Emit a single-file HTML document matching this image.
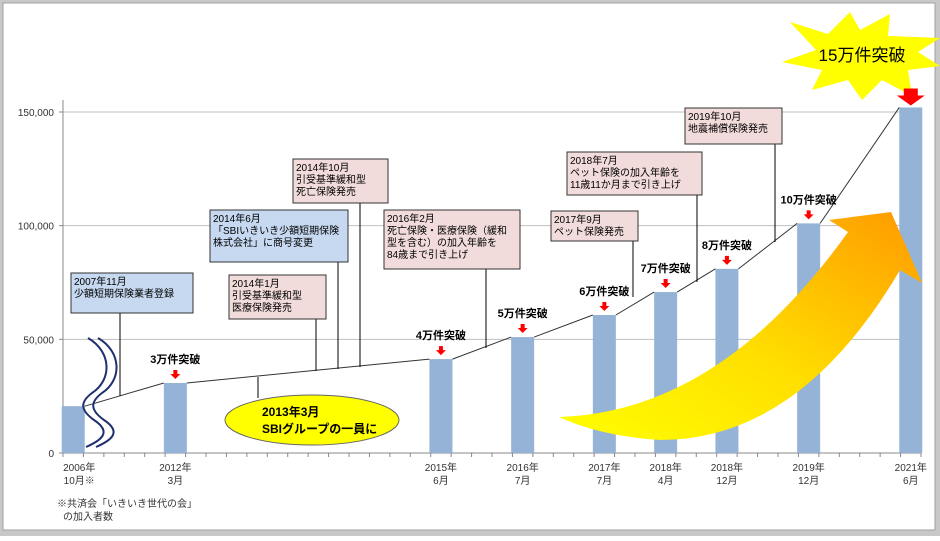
<!DOCTYPE html>
<html><head><meta charset="utf-8">
<style>
html,body{margin:0;padding:0;background:#fff;}
body{width:940px;height:536px;overflow:hidden;font-family:"Liberation Sans","Noto Sans CJK JP",sans-serif;}
svg text{font-family:"Liberation Sans","Noto Sans CJK JP",sans-serif;}
</style></head>
<body>
<svg id="chart" width="940" height="536" viewBox="0 0 940 536" xmlns="http://www.w3.org/2000/svg">
<defs>
<linearGradient id="arrowGrad" x1="0" y1="1" x2="1" y2="0">
<stop offset="0" stop-color="#ffff00"/><stop offset="0.45" stop-color="#ffe000"/><stop offset="1" stop-color="#ff9900"/>
</linearGradient>
</defs>
<rect x="0" y="0" width="940" height="536" fill="#c8c8c8"/>
<rect x="3" y="3" width="932" height="527" fill="#fff" stroke="#a0a0a0" stroke-width="1"/>
<g id="grid"></g>
<g id="axes"></g>
<g id="bars"></g>
<g id="trend"></g>
<g fill="none" stroke="#1f2f6f" stroke-width="2">
<path d="M88,338 C112,352 112,380 92,393 C80,402 80,410 94,420 C112,432 102,440 86,447"/>
<path d="M98,338 C122,352 122,380 102,393 C90,402 90,410 104,420 C122,432 112,440 96,447"/>
</g>
<path d="M559,417 Q720,412 848,232 L829,220 L891,212 L922,283 L900,270 Q800,440 660,440 Q600,436 559,417 Z" fill="url(#arrowGrad)"/>
<g id="annotations" font-size="10" fill="#000"></g>
<g>
<line x1="258" y1="377" x2="258" y2="398" stroke="#000" stroke-width="1"/>
<ellipse cx="312" cy="420" rx="87" ry="25" fill="#ffff00" stroke="#666" stroke-width="1"/>
<text x="262" y="416" font-size="12" font-weight="bold">2013年3月</text>
<text x="262" y="433" font-size="12" font-weight="bold">SBIグループの一員に</text>
</g>
<g>
<polygon points="790,22 828,34 850,12 860,30 890,14 888,36 940,38 918,52 940,66 908,70 912,96 882,80 862,100 848,80 812,90 822,70 782,62 816,50" fill="#ffff00"/>
<text x="862" y="61" font-size="17" text-anchor="middle" fill="#000">15万件突破</text>
</g>
<g id="milestones"></g>
<g id="xlabels" font-size="10" fill="#333" text-anchor="middle"></g>
<text x="57" y="507" font-size="10" fill="#333">※共済会「いきいき世代の会」</text>
<text x="63" y="520" font-size="10" fill="#333">の加入者数</text>
</svg>
<script>
const categories = ["2006年|10月※","2012年|3月","2015年|6月","2016年|7月","2017年|7月","2018年|4月","2018年|12月","2019年|12月","2021年|6月"];
const slots = [0,5,18,22,26,29,32,36,41];
const values = [20600,30800,41300,51000,60700,70800,81000,101000,152000];
const milestones = ["","3万件突破","4万件突破","5万件突破","6万件突破","7万件突破","8万件突破","10万件突破",""];
const yTicks = [0,50000,100000,150000];
const yTickLabels = ["0","50,000","100,000","150,000"];

const NS="http://www.w3.org/2000/svg";
const X0=63, X1=921, Y0=453, YT=112, YMAX=150000, NSLOT=42;
const slotW=(X1-X0)/NSLOT;
const xScale = s => X0 + (s+0.5)*slotW;
const yScale = v => Y0 - v/YMAX*(Y0-YT);
function mk(tag, attrs, parent){const e=document.createElementNS(NS,tag);for(const k in attrs)e.setAttribute(k,attrs[k]);parent.appendChild(e);return e;}

const grid=document.getElementById('grid');
const axes=document.getElementById('axes');
yTicks.forEach((t,i)=>{
  const y=yScale(t);
  if(t>0){const l=mk('line',{x1:X0,x2:X1,y1:y,y2:y,stroke:'#bfbfbf','stroke-width':1},grid);
  
  }
  const tx=mk('text',{x:54,y:y+4,'font-size':10,'text-anchor':'end',fill:'#333'},axes);
  tx.textContent=yTickLabels[i];
  
  
  mk('line',{x1:X0-4,x2:X0,y1:y,y2:y,stroke:'#888'},axes);
});
mk('line',{x1:X0,x2:X0,y1:100,y2:Y0,stroke:'#888'},axes);
mk('line',{x1:X0,x2:X1,y1:Y0,y2:Y0,stroke:'#888'},axes);
for(let i=0;i<=NSLOT;i++){const x=X0+i*slotW;mk('line',{x1:x,x2:x,y1:Y0,y2:Y0+4,stroke:'#888'},axes);}

const bars=document.getElementById('bars');
const BW=23;
const pts=[];
values.forEach((v,i)=>{
  const cx=xScale(slots[i]), y=yScale(v);
  const r=mk('rect',{x:cx-BW/2,y:y,width:BW,height:Y0-y,fill:'#95b3d7'},bars);
  
  
  pts.push([cx-BW/2,y],[cx+BW/2,y]);
});
const trend=document.getElementById('trend');
const segs=[];
for(let i=1;i<pts.length-1;i+=2){segs.push(pts[i][0]+','+pts[i][1]+' '+pts[i+1][0]+','+pts[i+1][1]);}
segs.forEach(s=>{const l=mk('polyline',{points:s,fill:'none',stroke:'#333','stroke-width':1},trend);
  
  });

const ms=document.getElementById('milestones');
values.forEach((v,i)=>{
  const cx=xScale(slots[i]), y=yScale(v);
  if(i===0) return;
  let ay=y-13, big=(i===values.length-1);
  if(big){
    const a=mk('polygon',{points:`${cx-7},${y-19} ${cx+7},${y-19} ${cx+7},${y-12} ${cx+14},${y-12} ${cx},${y-2} ${cx-14},${y-12} ${cx-7},${y-12}`,fill:'#ff0000'},ms);
    
    
    return;
  }
  const a=mk('polygon',{points:`${cx-2},${ay} ${cx+2},${ay} ${cx+2},${ay+4} ${cx+5},${ay+4} ${cx},${ay+9} ${cx-5},${ay+4} ${cx-2},${ay+4}`,fill:'#ff0000'},ms);
  
  
  const t=mk('text',{x:cx,y:y-20,'font-size':11,'font-weight':'bold','text-anchor':'middle',fill:'#000'},ms);
  t.textContent=milestones[i];
  
  
});

const xl=document.getElementById('xlabels');
categories.forEach((c,i)=>{
  const cx=xScale(slots[i])+(i===0?6:0);
  const parts=c.split('|');
  const t=mk('text',{x:cx,y:471},xl);t.textContent=parts[0];
  
  
  const t2=mk('text',{x:cx,y:484},xl);t2.textContent=parts[1];
  
  
});

const notes=[
 {x:71,y:273,w:122,h:40,fill:'#c6d9f1',lx:120,ly2:396,lines:["2007年11月","少額短期保険業者登録"],name:'note-2007-11'},
 {x:229,y:275,w:97,h:44,fill:'#f2dcdb',lx:316,ly2:371,lines:["2014年1月","引受基準緩和型","医療保険発売"],name:'note-2014-01'},
 {x:210,y:210,w:138,h:52,fill:'#c6d9f1',lx:338,ly2:369,lines:["2014年6月","「SBIいきいき少額短期保険","株式会社」に商号変更"],name:'note-2014-06'},
 {x:293,y:159,w:95,h:44,fill:'#f2dcdb',lx:360,ly2:367,lines:["2014年10月","引受基準緩和型","死亡保険発売"],name:'note-2014-10'},
 {x:384,y:210,w:136,h:59,fill:'#f2dcdb',lx:486,ly2:348,lines:["2016年2月","死亡保険・医療保険（緩和","型を含む）の加入年齢を","84歳まで引き上げ"],name:'note-2016-02'},
 {x:551,y:211,w:87,h:30,fill:'#f2dcdb',lx:633,ly2:297,lines:["2017年9月","ペット保険発売"],name:'note-2017-09'},
 {x:567,y:152,w:135,h:43,fill:'#f2dcdb',lx:697,ly2:282,lines:["2018年7月","ペット保険の加入年齢を","11歳11か月まで引き上げ"],name:'note-2018-07'},
 {x:685,y:108,w:97,h:36,fill:'#f2dcdb',lx:775,ly2:242,lines:["2019年10月","地震補償保険発売"],name:'note-2019-10'}
];
const an=document.getElementById('annotations');
notes.forEach(n=>{
  const g=mk('g',{},an);
  
  
  mk('line',{x1:n.lx,x2:n.lx,y1:n.y+n.h,y2:n.ly2,stroke:'#000','stroke-width':1},g);
  mk('rect',{x:n.x,y:n.y,width:n.w,height:n.h,fill:n.fill,stroke:'#333','stroke-width':1},g);
  n.lines.forEach((s,k)=>{const t=mk('text',{x:n.x+3,y:n.y+12+k*12,'font-size':10},g);t.textContent=s;});
});
</script>
</body></html>
